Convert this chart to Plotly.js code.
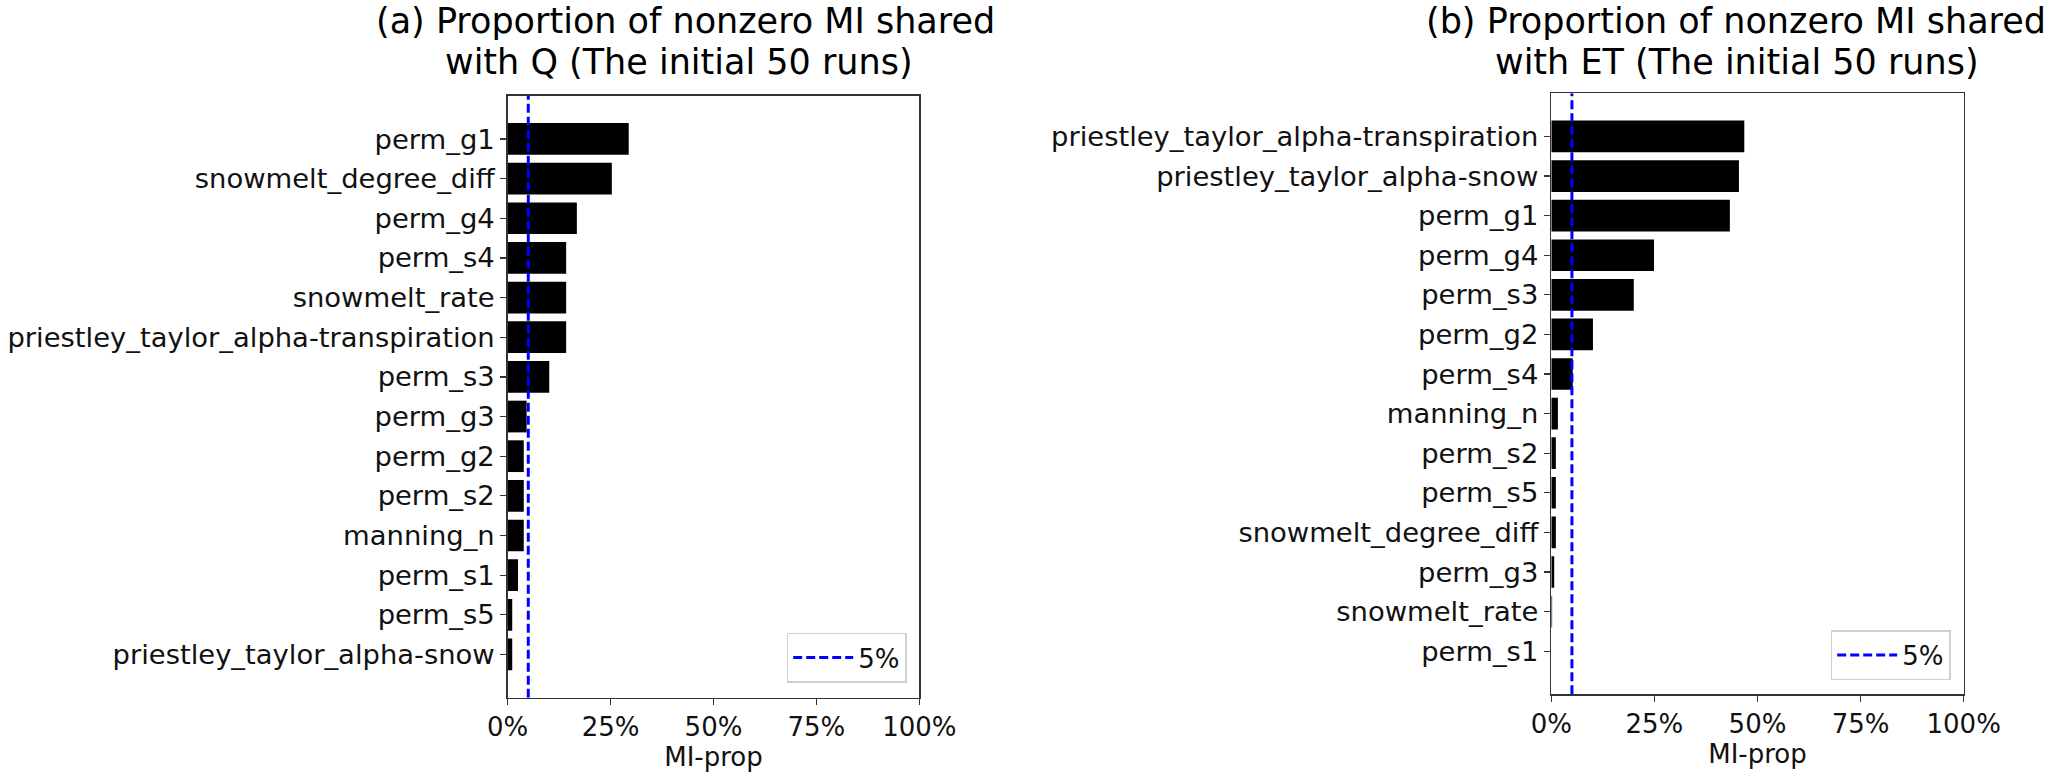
<!DOCTYPE html>
<html>
<head>
<meta charset="utf-8">
<script src="https://cdn.plot.ly/plotly-3.0.1.min.js"></script>
<style>html,body{margin:0;padding:0;background:#fff;}#chart{width:2067px;height:774px;}</style>
</head>
<body>
<div id="chart"></div>
<script>
// ---- data ----
const catsQ = ['perm_g1','snowmelt_degree_diff','perm_g4','perm_s4','snowmelt_rate',
  'priestley_taylor_alpha-transpiration','perm_s3','perm_g3','perm_g2','perm_s2',
  'manning_n','perm_s1','perm_s5','priestley_taylor_alpha-snow'];
const valsQ = [0.294,0.253,0.168,0.142,0.142,0.142,0.101,0.046,0.039,0.039,0.039,0.025,0.011,0.011];

const catsET = ['priestley_taylor_alpha-transpiration','priestley_taylor_alpha-snow','perm_g1',
  'perm_g4','perm_s3','perm_g2','perm_s4','manning_n','perm_s2','perm_s5',
  'snowmelt_degree_diff','perm_g3','snowmelt_rate','perm_s1'];
const valsET = [0.468,0.455,0.433,0.249,0.200,0.101,0.052,0.016,0.011,0.011,0.011,0.007,0.002,0.000];

const threshold = 0.05;
const thresholdName = '5%';
const xTickVals = [0, 0.25, 0.5, 0.75, 1];
const xTickText = ['0%','25%','50%','75%','100%'];
const titleA = ['(a) Proportion of nonzero MI shared', 'with Q (The initial 50 runs)'];
const titleB = ['(b) Proportion of nonzero MI shared', 'with ET (The initial 50 runs)'];
const xTitle = 'MI-prop';

// ---- layout helpers ----
const W = 2067, H = 774;
const FONT = 'DejaVu Sans';
const px = v => v / W;
const py = v => 1 - v / H;

function barTrace(cats, vals, xa, ya) {
  return {type:'bar', orientation:'h', y:cats, x:vals, xaxis:xa, yaxis:ya,
    marker:{color:'#000000', line:{width:0}}, showlegend:false, hoverinfo:'x+y'};
}
function lineTrace(xa, ya, leg) {
  return {type:'scatter', mode:'lines', x:[threshold, threshold], y:[0,1], xaxis:xa, yaxis:ya,
    name:thresholdName, legend:leg, showlegend:true, hoverinfo:'skip',
    line:{color:'#0000ff', width:3, dash:'9px,4px'}};
}
const n = catsQ.length;
function yAxis(cats, domain) {
  return {domain:domain, type:'category', categoryorder:'array', categoryarray:cats,
    range:[n - 1 + 1.09, -1.09], showline:true, mirror:true, linecolor:'#333', linewidth:1.5,
    ticks:'outside', ticklen:6, tickwidth:1.3, tickcolor:'#333', showgrid:false, zeroline:false,
    tickfont:{family:FONT, size:27.4, color:'#111'}, automargin:false, fixedrange:true};
}
function xAxis(domain, anchor) {
  return {domain:domain, anchor:anchor, range:[0,1], tickvals:xTickVals, ticktext:xTickText,
    showline:true, mirror:true, linecolor:'#333', linewidth:1.5, ticks:'outside', ticklen:6,
    tickwidth:1.3, tickcolor:'#333', showgrid:false, zeroline:false,
    tickfont:{family:FONT, size:26, color:'#111'},
    title:{text:xTitle, font:{family:FONT, size:26, color:'#111'}, standoff:6},
    automargin:false, fixedrange:true};
}
function hiddenY(over) {
  return {overlaying:over, range:[0,1], visible:false, fixedrange:true};
}

const data = [
  barTrace(catsQ, valsQ, 'x', 'y'),
  lineTrace('x', 'y3', 'legend'),
  barTrace(catsET, valsET, 'x2', 'y2'),
  lineTrace('x2', 'y4', 'legend2')
];

function titleAnn(text, xc, ycPix) {
  return {text:text, xref:'paper', yref:'paper', x:px(xc), y:py(ycPix),
    xanchor:'center', yanchor:'middle', align:'center', showarrow:false,
    font:{family:FONT, size:35, color:'#000'}};
}
function legendCfg(rightPix, bottomPix) {
  return {x:px(rightPix), y:py(bottomPix), xanchor:'right', yanchor:'bottom',
    bgcolor:'#ffffff', bordercolor:'#d0d0d0', borderwidth:1.5,
    font:{family:FONT, size:26, color:'#111'}, itemwidth:60};
}

const layout = {
  width:W, height:H, margin:{l:0, r:0, t:0, b:0},
  paper_bgcolor:'#ffffff', plot_bgcolor:'#ffffff',
  bargap:0.2, showlegend:true,
  xaxis: xAxis([px(507.7), px(919.3)], 'y'),
  yaxis: yAxis(catsQ, [py(697.7), py(95.7)]),
  xaxis2: xAxis([px(1551.3), px(1963.7)], 'y2'),
  yaxis2: yAxis(catsET, [py(694.3), py(93.3)]),
  yaxis3: hiddenY('y'),
  yaxis4: hiddenY('y2'),
  legend: legendCfg(906.7, 682.7),
  legend2: legendCfg(1950.7, 680),
  annotations: [
    titleAnn(titleA[0], 685, 20.8), titleAnn(titleA[1], 679, 61.5),
    titleAnn(titleB[0], 1736, 20.8), titleAnn(titleB[1], 1737, 61.5)
  ]
};
layout.yaxis2.anchor = 'x2';
layout.yaxis.anchor = 'x';
layout.yaxis3.anchor = 'x';
layout.yaxis4.anchor = 'x2';

Plotly.newPlot('chart', data, layout, {displayModeBar:false, staticPlot:true});
</script>
</body>
</html>
